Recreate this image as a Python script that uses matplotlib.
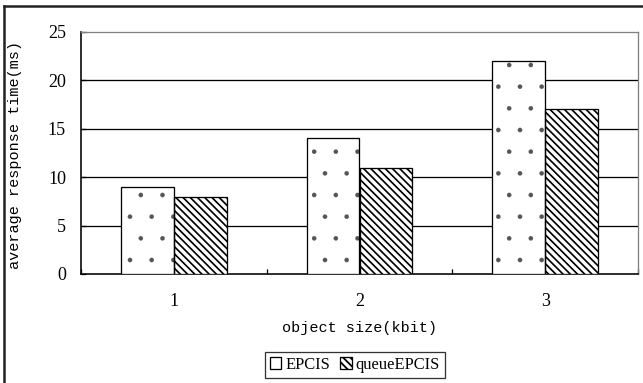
import matplotlib
matplotlib.use("Agg")
import matplotlib.pyplot as plt
import numpy as np
from matplotlib.lines import Line2D
from matplotlib.patches import Patch

DPI = 130


def px(v):
    # pixels -> points at the save dpi
    return v * 72 / DPI


plt.rcParams['font.family'] = ['Liberation Serif', 'DejaVu Serif']

categories = ["1", "2", "3"]
epcis = [9, 14, 22]
queue_epcis = [8, 11, 17]
series_names = ["EPCIS", "queueEPCIS"]
y_ticks = [0, 5, 10, 15, 20, 25]

fig = plt.figure(figsize=(643 / DPI, 383 / DPI), dpi=DPI)
ax = fig.add_axes([81 / 643, 109 / 383, 557 / 643, 242 / 383])

x = np.arange(len(categories))
width = 0.285
stripe_lw = px(1.7)
stripe_hatch = "\\" * 6


def set_hatch_lw(bars, lw):
    for b in bars:
        if hasattr(b, "set_hatch_linewidth"):
            b.set_hatch_linewidth(lw)


# dotted bars: grey dots, then black outline on top
with plt.rc_context({"hatch.linewidth": px(0.2)}):
    dots = ax.bar(x - width / 2, epcis, width, color="white", edgecolor="#555555",
                  linewidth=0, hatch=".", zorder=3)
set_hatch_lw(dots, px(0.2))
ax.bar(x - width / 2, epcis, width, fill=False, edgecolor="black", linewidth=px(1.3), zorder=4)

with plt.rc_context({"hatch.linewidth": stripe_lw}):
    stripes = ax.bar(x + width / 2, queue_epcis, width, color="white", edgecolor="black",
                     linewidth=px(1.3), hatch=stripe_hatch, zorder=3)
set_hatch_lw(stripes, stripe_lw)

# horizontal gridlines (the top one is the grey frame)
for yv in y_ticks[1:-1]:
    ax.axhline(yv, color="black", linewidth=px(1.3), zorder=1)

ax.set_xlim(-0.5, 2.5)
ax.set_ylim(0, 25)
ax.set_yticks(y_ticks)
ax.set_xticks(x, categories)
ax.set_xticks([-0.5, 0.5, 1.5, 2.5], minor=True)
ax.tick_params(axis="x", which="major", length=0, pad=px(19), labelsize=px(18))
ax.tick_params(axis="x", which="minor", direction="in", length=px(5), width=px(1.3))
ax.tick_params(axis="y", direction="in", length=px(5), width=px(1.3), pad=px(15),
               labelsize=px(18))

for side in ["top", "right"]:
    ax.spines[side].set_color("#808080")
    ax.spines[side].set_linewidth(px(1.3))
for side in ["left", "bottom"]:
    ax.spines[side].set_color("black")
    ax.spines[side].set_linewidth(px(1.6))

label_font = dict(family=["Liberation Mono", "DejaVu Sans Mono"], fontsize=px(15.2))
ax.set_xlabel("object size(kbit)", va="center", **label_font)
ax.xaxis.set_label_coords(0.5, -0.224)
ax.set_ylabel("average response time(ms)", va="center", **label_font)
ax.yaxis.set_label_coords(-0.118, 0.49)

with plt.rc_context({"hatch.linewidth": px(1.4)}):
    handles = [Patch(facecolor="white", edgecolor="black", linewidth=px(1.3)),
               Patch(facecolor="white", edgecolor="black", linewidth=px(1.3), hatch=stripe_hatch)]
leg = fig.legend(handles, series_names, loc="center",
                 bbox_to_anchor=(355 / 643, 1 - 365 / 383), ncol=2,
                 fontsize=px(16.5), frameon=True, fancybox=False, edgecolor="black",
                 handlelength=0.7, handleheight=0.7, handletextpad=0.25,
                 columnspacing=0.6, borderpad=0.3, borderaxespad=0)
leg.get_frame().set_linewidth(px(1.3))

# outer frame: only its left and top edges fall inside the picture
fig.add_artist(Line2D([3.5 / 643, 3.5 / 643], [0, 1 - 6 / 383], transform=fig.transFigure,
                      color="#222222", linewidth=px(2.5)))
fig.add_artist(Line2D([3.5 / 643, 1], [1 - 6 / 383, 1 - 6 / 383], transform=fig.transFigure,
                      color="#222222", linewidth=px(2.5)))

fig.savefig("out.png", dpi=DPI)
